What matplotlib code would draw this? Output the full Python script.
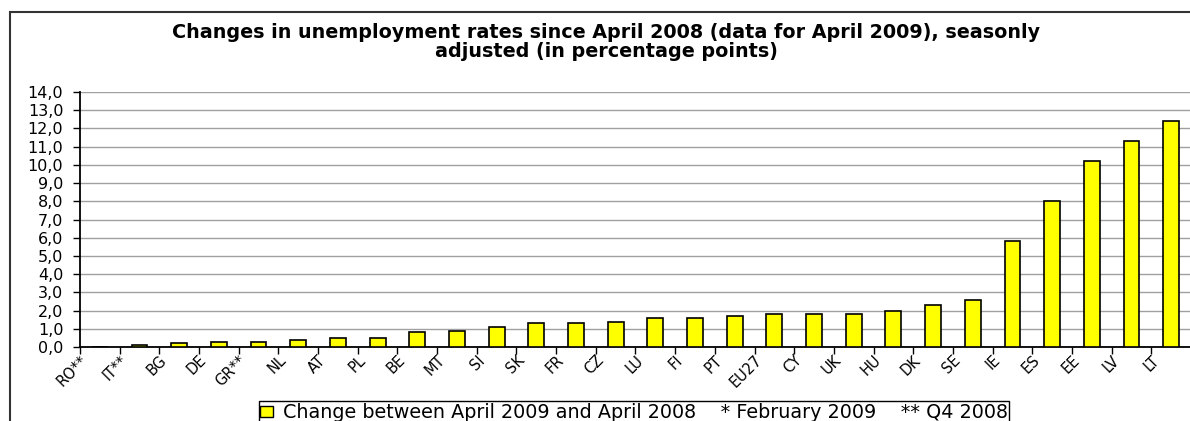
import matplotlib
matplotlib.use("Agg")
import matplotlib.pyplot as plt
from matplotlib.patches import Rectangle, Patch
from matplotlib.ticker import FuncFormatter, FixedLocator
import numpy as np

# categories and values (percentage points)
countries = ["RO**", "IT**", "BG", "DE", "GR**", "NL", "AT", "PL", "BE", "MT",
             "SI", "SK", "FR", "CZ", "LU", "FI", "PT", "EU27", "CY", "UK",
             "HU", "DK", "SE", "IE", "ES", "EE", "LV", "LT"]
change = [0.0, 0.1, 0.2, 0.3, 0.3, 0.4, 0.5, 0.5, 0.8, 0.9,
          1.1, 1.3, 1.3, 1.4, 1.6, 1.6, 1.7, 1.8, 1.8, 1.8,
          2.0, 2.3, 2.6, 5.8, 8.0, 10.2, 11.3, 12.4]
yticks = np.arange(0, 15, 1)

title = ("Changes in unemployment rates since April 2008 (data for April 2009), seasonly\n"
         "adjusted (in percentage points)")
legend_label = "Change between April 2009 and April 2008    * February 2009    ** Q4 2008"

plt.rcParams['font.family'] = ['DejaVu Sans']

fig = plt.figure(figsize=(11.9, 4.21), dpi=100)
ax = fig.add_axes([80 / 1190, 1 - 347 / 421, 1111 / 1190, 255 / 421])

x = np.arange(len(countries))
ax.bar(x, change, width=0.4, color='#FFFF00', edgecolor='black', linewidth=1.2, zorder=3)

ax.set_xlim(-0.5, len(countries) - 0.5)
ax.set_ylim(0, 14)
ax.set_yticks(yticks)
ax.yaxis.set_major_formatter(FuncFormatter(lambda v, p: f"{v:.1f}".replace('.', ',')))
ax.grid(axis='y', color='#a0a0a0', linewidth=1.0, zorder=0)
ax.set_axisbelow(True)

# tick marks on category boundaries, labels hang from the left boundary (as Excel draws them)
ax.xaxis.set_major_locator(FixedLocator(np.arange(len(countries) + 1) - 0.5))
ax.xaxis.set_major_formatter(FuncFormatter(lambda v, p: ""))
ax.xaxis.remove_overlapping_locs = False
ax.xaxis.set_minor_locator(FixedLocator(x - 0.5))
ax.set_xticklabels(countries, minor=True, rotation=45, ha='right', va='top',
                   rotation_mode='anchor', fontsize=10.5)
ax.tick_params(axis='x', which='major', length=5, width=1, direction='out')
ax.tick_params(axis='x', which='minor', length=0, pad=4)
ax.tick_params(axis='y', length=5, width=1, direction='out', labelsize=11.5, pad=7)

for s in ['top', 'right']:
    ax.spines[s].set_visible(False)
ax.spines['left'].set_linewidth(1.3)
ax.spines['bottom'].set_linewidth(1.3)

fig.text(606 / 1190, 1 - 42 / 421, title, ha='center', va='center',
         fontsize=13.8, fontweight='bold', linespacing=1.05)

handle = Patch(facecolor='#FFFF00', edgecolor='black', linewidth=1)
fig.legend([handle], [legend_label], loc='upper center',
           bbox_to_anchor=(634 / 1190, 1 - 401 / 421), fontsize=13.8,
           frameon=True, fancybox=False, edgecolor='black', framealpha=1,
           handlelength=0.65, handleheight=0.5, handletextpad=0.5,
           borderpad=0.1, borderaxespad=0)
fig.legends[0].get_frame().set_linewidth(1.0)

# outer chart border (runs off the right and bottom of the picture)
fig.patches.append(Rectangle((10 / 1190, -0.1), 1.2, 0.1 + (1 - 12 / 421),
                             transform=fig.transFigure, fill=False,
                             edgecolor='#333333', linewidth=1.5))

fig.savefig("out.png", dpi=100)
